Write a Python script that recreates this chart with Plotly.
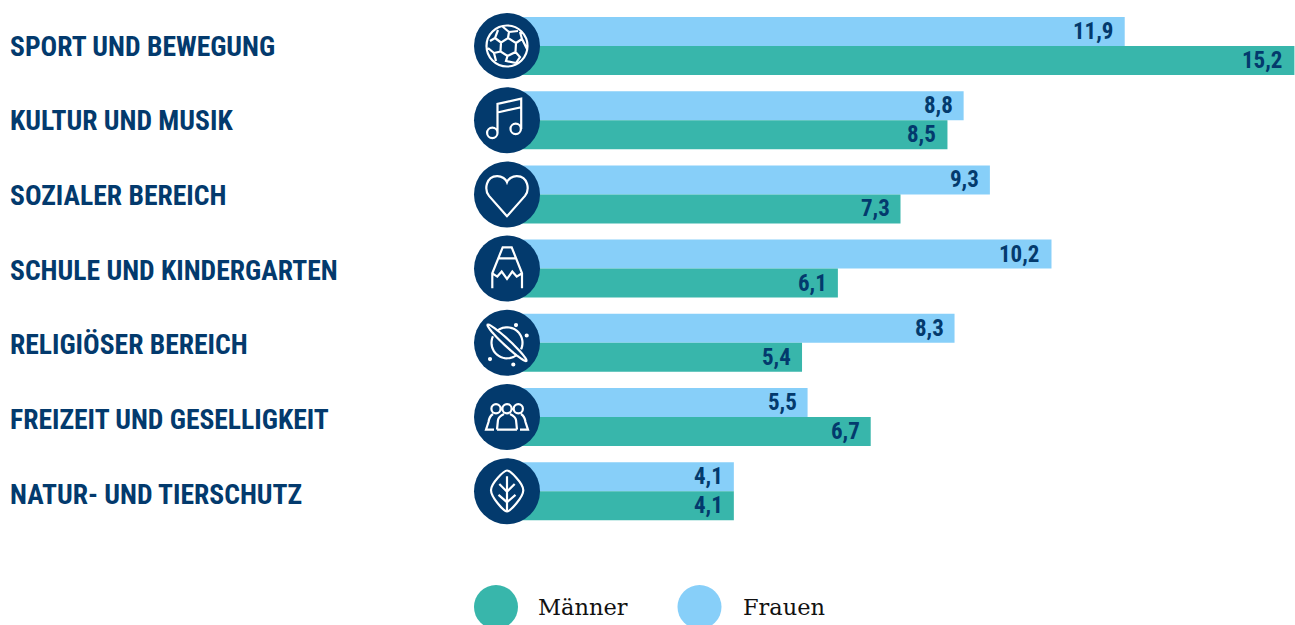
import math
import re
import plotly.graph_objects as go

# ---- data -------------------------------------------------------------
categories = ["SPORT UND BEWEGUNG", "KULTUR UND MUSIK", "SOZIALER BEREICH", "SCHULE UND KINDERGARTEN",
              "RELIGIÖSER BEREICH", "FREIZEIT UND GESELLIGKEIT", "NATUR- UND TIERSCHUTZ"]
# printed values
frauen_labels = ["11,9", "8,8", "9,3", "10,2", "8,3", "5,5", "4,1"]
maenner_labels = ["15,2", "8,5", "7,3", "6,1", "5,4", "6,7", "4,1"]
# bar lengths as drawn in the picture (they differ slightly from the printed values)
frauen_bars = [11.84, 8.65, 9.17, 10.39, 8.47, 5.56, 4.10]
maenner_bars = [15.20, 8.33, 7.40, 6.16, 5.45, 6.81, 4.10]
legend_names = ["Männer", "Frauen"]

NAVY = "#033a6d"
TEAL = "#38b6ab"
SKY = "#87cff9"
W, H = 1295, 625
PX_PER_UNIT = 50.5
ZERO_PX = 526.8
ROW0, ROW_STEP, BAR_PX = 46, 74.2, 29
LABEL_STEP = 74.7
ICON_X = (507 - ZERO_PX) / PX_PER_UNIT
rows = list(range(len(categories)))
label_rows = [i * LABEL_STEP / ROW_STEP for i in rows]
bar_w = BAR_PX / ROW_STEP


# ---- icon geometry helpers (pixels relative to the circle centre, y down) --
def circle(cx, cy, r):
    k = 0.5523 * r
    return (f"M{cx+r},{cy} C{cx+r},{cy+k} {cx+k},{cy+r} {cx},{cy+r} "
            f"C{cx-k},{cy+r} {cx-r},{cy+k} {cx-r},{cy} "
            f"C{cx-r},{cy-k} {cx-k},{cy-r} {cx},{cy-r} "
            f"C{cx+k},{cy-r} {cx+r},{cy-k} {cx+r},{cy} Z ")


def rot_ellipse(a, b, deg, n=40):
    t = math.radians(deg)
    pts = []
    for i in range(n):
        u = 2 * math.pi * i / n
        x, y = a * math.cos(u), b * math.sin(u)
        pts.append((x * math.cos(t) - y * math.sin(t), x * math.sin(t) + y * math.cos(t)))
    return "M" + " L".join(f"{x:.2f},{y:.2f}" for x, y in pts) + " Z "


def arc(r, a0, a1, n=24):
    pts = [(r * math.cos(math.radians(a0 + (a1 - a0) * i / n)),
            r * math.sin(math.radians(a0 + (a1 - a0) * i / n))) for i in range(n + 1)]
    return "M" + " L".join(f"{x:.2f},{y:.2f}" for x, y in pts) + " "


def flip(path):
    # pixel-sized shapes measure y upwards
    out, is_y = [], False
    for tok in re.findall(r"[MLCZ]|-?\d+\.?\d*", path):
        if tok in "MLCZ":
            out.append(tok)
            is_y = False
        else:
            out.append(str(-float(tok)) if is_y else tok)
            is_y = not is_y
    s = ""
    i = 0
    while i < len(out):
        if out[i] in "MLCZ":
            s += out[i]
            i += 1
        else:
            s += f"{out[i]},{out[i+1]} "
            i += 2
    return s


ball = (circle(0, 0, 20.5) +
        "M1,-8 L9,-3 L8.5,6 L0.5,10 L-6.5,5.5 L-6,-3.5 Z "
        "M1,-8 L2,-14 L-4.5,-19.5 M2,-14 L11,-15 M9,-3 L15,-7 L13,-14 M15,-7 L20,3 "
        "M8.5,6 L13,11 L9,17 M0.5,10 L-1,15 L9,17 "
        "M-6.5,5.5 L-13,7 L-11,15 M-13,7 L-19,2 "
        "M-6,-3.5 L-12,-8 L-9,-16 M-12,-8 L-17,-5 ")
note = (circle(-14.7, 12.7, 5.2) + circle(8.7, 8.7, 5.2) +
        "M-9.5,12.7 L-9.5,-16.3 L14.2,-21.5 L14.2,8.7 M-9.5,-7.7 L14.2,-13 ")
heart = ("M0,21.8 L-18,1.5 C-23,-5 -21,-18 -10,-18.3 C-5,-18.5 -1,-15 0,-12.3 "
         "C1,-15 5,-18.5 10,-18.3 C21,-18 23,-5 18,1.5 Z ")
pencil = ("M-14.7,19.7 L-14.7,4.7 L-4.3,-21.3 L4.7,-21.3 L15,4.7 L15,19.7 "
          "M-8.7,-10.3 L9.7,-10.3 "
          "M-14.7,4.7 L-9.7,8 L-5.3,3 L0,10.3 L5.3,3 L9.7,8 L15,4.7 ")
planet = (arc(15.5, 55, 205) + arc(15.5, 235, 385) + rot_ellipse(26.5, 3.2, 43) +
          circle(9, -17.7, 1) + circle(19.7, -7.3, 1) + circle(-17, 16.3, 1) + circle(6.3, 21.7, 1))
people = (circle(-11, -8.3, 4.6) + circle(0, -8.3, 4.6) + circle(11.3, -8.3, 4.6) +
          "M-10,12.7 L-9,3 C-8.5,0 -5,-2 -3,-3 M10,12.7 L9,3 C8.5,0 5,-2 3,-3 M-10,12.7 L10,12.7 "
          "M-14,-3 C-17,-1 -18,1 -18.5,5 L-21,12.7 L-13,12.7 "
          "M14,-3 C17,-1 18,1 18.5,5 L21,12.7 L13,12.7 ")
leaf = ("M0,-20.7 C3,-20.7 16.3,-8 16.3,-1 C16.3,6 3,20.3 0,20.3 C-3,20.3 -16,6 -16,-1 C-16,-8 -3,-20.7 0,-20.7 Z "
        "M0,-15 L0,20 M-7.7,-7.3 L0,0.5 L7.7,-7.3 M-8.5,3.7 L0,11 L8.5,3.7 ")
icons = [ball, note, heart, pencil, planet, people, leaf]

fig = go.Figure()
# the bars run on underneath the round badge, so they start at its centre
fig.add_bar(name="Frauen", y=rows, x=[v - ICON_X for v in frauen_bars], base=ICON_X, orientation="h",
            marker=dict(color=SKY, line_width=0), offset=-bar_w, width=bar_w, showlegend=False)
fig.add_bar(name="Männer", y=rows, x=[v - ICON_X for v in maenner_bars], base=ICON_X, orientation="h",
            marker=dict(color=TEAL, line_width=0), offset=0, width=bar_w, showlegend=False)
fig.add_scatter(x=[ICON_X] * len(rows), y=rows, mode="markers", showlegend=False,
                marker=dict(size=66, color=NAVY, line_width=0))

annotations = []
val_font = dict(family="Roboto Condensed", size=23, color=NAVY, weight="bold")
for i in rows:
    for vals, labs, off in ((frauen_bars, frauen_labels, -bar_w / 2), (maenner_bars, maenner_labels, bar_w / 2)):
        annotations.append(dict(x=vals[i], y=i + off, xref="x", yref="y", text=labs[i], showarrow=False,
                                xanchor="right", xshift=-9, yanchor="middle", font=val_font))
leg_font = dict(family="DejaVu Serif", size=22.5, color="#111111")
annotations.append(dict(x=538 / W, y=1 - 607 / H, xref="paper", yref="paper", text=legend_names[0],
                        showarrow=False, xanchor="left", yanchor="middle", font=leg_font, xshift=-2))
annotations.append(dict(x=743 / W, y=1 - 607 / H, xref="paper", yref="paper", text=legend_names[1],
                        showarrow=False, xanchor="left", yanchor="middle", font=leg_font, xshift=-2))

shapes = []
for i, p in zip(rows, icons):
    shapes.append(dict(type="path", xref="x", yref="y", xsizemode="pixel", ysizemode="pixel",
                       xanchor=ICON_X, yanchor=i, path=flip(p), line=dict(color="white", width=2.2),
                       fillcolor="rgba(0,0,0,0)", layer="above"))
for cx, col in ((496, TEAL), (699.5, SKY)):
    shapes.append(dict(type="circle", xref="paper", yref="paper", x0=(cx - 22) / W, x1=(cx + 22) / W,
                       y0=1 - 629 / H, y1=1 - 585 / H, fillcolor=col, line_width=0))

fig.update_layout(
    width=W, height=H, autosize=False, barmode="overlay",
    margin=dict(l=0, r=0, t=0, b=0), paper_bgcolor="white", plot_bgcolor="white",
    xaxis=dict(range=[-ZERO_PX / PX_PER_UNIT, (W - ZERO_PX) / PX_PER_UNIT], visible=False, fixedrange=True),
    yaxis=dict(range=[(H - ROW0) / ROW_STEP, -ROW0 / ROW_STEP], showgrid=False, zeroline=False, showline=False,
               tickmode="array", tickvals=label_rows, ticktext=categories, ticks="", ticklabelposition="inside",
               ticklabelstandoff=7, fixedrange=True,
               tickfont=dict(family="Roboto Condensed", size=27.6, color=NAVY, weight="bold")),
    annotations=annotations, shapes=shapes, hovermode=False,
)
fig.write_html("out.html", config={"displayModeBar": False},
               post_script="document.body.style.margin='0';")
